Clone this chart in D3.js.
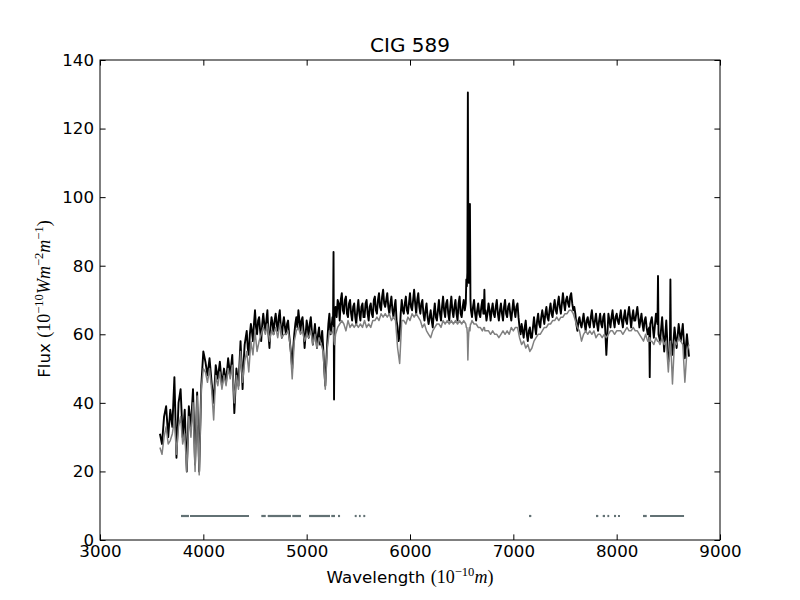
<!DOCTYPE html>
<html><head><meta charset="utf-8">
<script src="https://cdn.jsdelivr.net/npm/d3@7"></script>
<style>body{margin:0;background:#fff}</style>
</head><body><svg id="c" width="800" height="600"></svg>
<script>
// ---------------- data ----------------
const chartTitle = "CIG 589";
const xTicks = [3000, 4000, 5000, 6000, 7000, 8000, 9000];
const yTicks = [0, 20, 40, 60, 80, 100, 120, 140];

const wavelength = [
 3580,3600,3620,3640,3660, 3680,3700,3720,3740,3760, 3780,3800,3820,3840,3860, 3880,3900,3920,3940,3960,
 3980,4000,4020,4040,4060, 4080,4100,4120,4140,4160, 4180,4200,4220,4240,4260, 4280,4300,4320,4340,4360,
 4380,4400,4420,4440,4460, 4480,4500,4520,4540,4560, 4580,4600,4620,4640,4660, 4680,4700,4720,4740,4760,
 4780,4800,4820,4840,4860, 4880,4900,4920,4940,4960, 4980,5000,5020,5040,5060, 5080,5100,5120,5140,5160,
 5180,5200,5220,5240,5260, 5280,5300,5320,5340,5360, 5380,5400,5420,5440,5460, 5480,5500,5520,5540,5560,
 5580,5600,5620,5640,5660, 5680,5700,5720,5740,5760, 5780,5800,5820,5840,5860, 5880,5900,5920,5940,5960,
 5980,6000,6020,6040,6060, 6080,6100,6120,6140,6160, 6180,6200,6220,6240,6260, 6280,6300,6320,6340,6360,
 6380,6400,6420,6440,6460, 6480,6500,6520,6540,6560, 6580,6600,6620,6640,6660, 6680,6700,6720,6740,6760,
 6780,6800,6820,6840,6860, 6880,6900,6920,6940,6960, 6980,7000,7020,7040,7060, 7080,7100,7120,7140,7160,
 7180,7200,7220,7240,7260, 7280,7300,7320,7340,7360, 7380,7400,7420,7440,7460, 7480,7500,7520,7540,7560,
 7580,7600,7620,7640,7660, 7680,7700,7720,7740,7760, 7780,7800,7820,7840,7860, 7880,7900,7920,7940,7960,
 7980,8000,8020,8040,8060, 8080,8100,8120,8140,8160, 8180,8200,8220,8240,8260, 8280,8300,8320,8340,8360,
 8380,8400,8420,8440,8460, 8480,8500,8520,8540,8560, 8580,8600,8620,8640,8660, 8680,8700
];

const fluxObserved = [
 31,28,36,39,30, 38,33,47.5,24,40, 44,30,38,20,39, 33,44,22,43,20,
 45,55,52,48,53, 46,40,51,47,52, 45,50,46,53,48, 54,37,50,45,58,
 44,57,61,54,63, 58,67,60,65,58, 66,61,67,56,65, 60,66,61,67,59,
 65,60,64,57,50, 60,65,67,61,65, 56,64,59,65,57, 63,56,62,58,56,
 45,58,66,62,84, 68,70,64,72,66, 71,65,70,64,69, 63,70,64,69,65,
 70,64,69,65,71, 66,72,67,73,68, 72,66,71,65,70, 62,60,70,66,71,
 66,72,67,73,66, 72,66,70,64,69, 63,67,62,69,64, 70,64,71,65,70,
 64,71,65,70,64, 71,65,70,69,130.5, 98,65,70,64,69, 65,70,73,64,69,
 64,69,65,70,64, 69,64,70,65,69, 64,70,65,69,62, 63,59,64,58,62,
 59,65,60,66,62, 67,63,68,64,69, 65,70,66,71,66, 72,67,71,68,72,
 67,66,61,65,62, 66,61,65,62,67, 62,66,61,66,62, 66,54,66,62,67,
 62,66,63,67,62, 67,63,68,62,67, 64,68,62,66,61, 65,60,47.5,65,59,
 66,77,58,65,55, 64,52,76,54,62, 56,63,58,63,53, 60,53.5
];

const fluxModel = [
 27,25,30,33,28, 29,31,35,25,33, 36,28,31,20,36, 30,40,20,42,19,
 44,50,49,46,50, 44,35,48,45,49, 44,48,45,50,47, 51,40,48,44,55,
 46,52,55,49,58, 54,61,55,58,60, 62,60,63,58,61, 60,62,59,63,59,
 60,60,61,57,47, 58,61,62,60,61, 58,60,59,61,57, 60,56,59,57,55,
 44,56,61,60,62, 60,62,63,64,63, 61,64,62,63,62, 63,62,63,62,64,
 62,63,62,64,64, 65,64,66,65,66, 65,66,64,65,64, 56,51.5,64,64,63,
 65,64,66,65,66, 65,64,62,63,61, 60,59,61,62,63, 63,62,64,63,64,
 63,64,63,64,63, 64,63,64,63,52.5, 61,64,63,63,62, 62,61,62,61,61,
 60,61,60,60,59, 60,61,60,61,60, 62,61,62,62,59, 57,58,56,57,55,
 56,58,59,60,60, 61,62,62,63,63, 64,64,65,64,65, 65,66,66,67,67,
 66,64,62,61,58, 60,61,60,61,60, 61,59,60,60,59, 60,59,60,61,61,
 60,61,61,61,60, 61,62,61,61,62, 61,61,60,59,58, 60,58,59,58,57,
 59,58,57,59,57, 58,49,58,45.5,58, 57,59,58,57,46, 55,57
];

// extra samples (both series) around the narrow emission / sky-line features
const extraWave     = [5255, 5265, 5270, 6545, 6550, 6555, 6565, 6570, 6575, 6585, 6590, 6715, 6725, 8315, 8325, 8395, 8405, 8515, 8525];
const extraObserved = [  63,   41,   66,   76,   74,   78,   80,   75,   78,   70,   67,   67,   66,   62,   63,   63,   60,   55,   58];
const extraModel    = [  61,   58,   57,   62,   62,   60,   58,   61,   62,   63,   63,   62,   61,   58,   58,   58,   58,   56,   56];

// finer samples of the observed (noisy) spectrum between the main grid points
const midWave = [
 4390,4410,4430,4450,4470, 4490,4510,4530,4550,4570, 4590,4610,4630,4650,4670, 4690,4710,4730,4750,4770,
 4790,4810,4830,4850,4870, 4890,4910,4930,4950,4970, 4990,5010,5030,5050,5070, 5090,5110,5130,5150,5170,
 5190,5210,5230,5250,
 5290,5310,5330,5350,5370, 5390,5410,5430,5450,5470, 5490,5510,5530,5550,5570, 5590,5610,5630,5650,5670,
 5690,5710,5730,5750,5770, 5790,5810,5830,5850,5870, 5890,5910,5930,5950,5970, 5990,6010,6030,6050,6070,
 6090,6110,6130,6150,6170, 6190,6210,6230,6250,6270, 6290,6310,6330,6350,6370, 6390,6410,6430,6450,6470,
 6490,6510,6530,
 6610,6630,6650,6670,
 6690,6710,6730,6750,6770, 6790,6810,6830,6850,6870, 6890,6910,6930,6950,6970, 6990,7010,7030,7050,7070,
 7090,7110,7130,7150,7170, 7190,7210,7230,7250,7270, 7290,7310,7330,7350,7370, 7390,7410,7430,7450,7470,
 7490,7510,7530,7550,7570, 7590,7610,7630,7650,7670, 7690,7710,7730,7750,7770, 7790,7810,7830,7850,7870,
 7890,7910,7930,7950,7970, 7990,8010,8030,8050,8070, 8090,8110,8130,8150,8170, 8190,8210,8230,8250,8270,
 8290
];
const midObserved = [
 52,59,56,60,61, 63,62,64,61,63, 63,64,60,62,63, 64,63,65,62,63,
 62,63,60,54,56, 63,62,64,64,61, 60,62,63,61,60, 59,60,57,61,50,
 52,63,60,65,
 65,69,70,67,70, 66,69,66,68,65, 67,66,68,65,69, 66,68,66,70,67,
 70,68,71,69,70, 68,69,67,68,64, 58,66,67,69,67, 69,68,70,69,70,
 68,69,66,67,65, 65,64,66,65,67, 66,68,67,69,66, 68,67,68,66,69,
 66,68,67,
 68,66,67,66,
 68,66,67,66,67, 67,66,68,66,67, 66,68,66,68,66, 67,67,68,65,60,
 61,62,60,61,59, 62,62,64,63,65, 65,66,65,67,66, 68,67,69,68,69,
 69,70,69,71,69, 68,63,64,63,64, 63,64,63,65,64, 64,63,64,63,65,
 61,60,64,65,64, 65,64,65,64,65, 64,66,65,65,64, 66,65,64,63,64,
 62
];

// masked wavelength intervals (drawn at a constant flux level)
const maskStart = [3784, 3871, 4561, 4623, 4861, 5023, 5238, 5303, 5465, 5506, 5548, 7152, 7800, 7865, 7910, 7974, 8013, 8255, 8323];
const maskEnd   = [3861, 4442, 4604, 4848, 4945, 5226, 5274, 5323, 5484, 5523, 5567, 7174, 7822, 7887, 7928, 7994, 8032, 8291, 8652];
const maskLevel = 7;

// ---------------- chart ----------------
const svg = d3.select("#c");
const x = d3.scaleLinear().domain([3000, 9000]).range([100, 720]);
const y = d3.scaleLinear().domain([0, 140]).range([540, 60]);
const sans = "DejaVu Sans", serif = "Liberation Serif";

svg.append("rect").attr("width", 800).attr("height", 600).attr("fill", "#fff");
const plot = svg.append("g");

function buildSeries(groups) {
  const pts = [];
  groups.forEach(([ws, vs]) => ws.forEach((w, i) => pts.push([w, vs[i]])));
  return pts.sort((a, b) => a[0] - b[0]);
}
function drawSeries(points, color, width) {
  const gen = d3.line().x(d => x(d[0])).y(d => y(d[1]));
  plot.append("path")
    .datum(points)
    .attr("d", gen)
    .attr("fill", "none")
    .attr("stroke", color)
    .attr("stroke-width", width)
    .attr("stroke-linejoin", "round");
}
drawSeries(buildSeries([[wavelength, fluxObserved], [extraWave, extraObserved], [midWave, midObserved]]), "#000000", 1.9);
drawSeries(buildSeries([[wavelength, fluxModel], [extraWave, extraModel]]), "#808080", 1.5);

plot.selectAll("line.mask")
  .data(maskStart.map((s, i) => [s, maskEnd[i]]))
  .enter().append("line")
  .attr("class", "mask")
  .attr("x1", d => x(d[0])).attr("x2", d => x(d[1]))
  .attr("y1", y(maskLevel)).attr("y2", y(maskLevel))
  .attr("stroke", "#627174").attr("stroke-width", 2.2);

// axes (ticks inward on all four sides)
const tk = 5.6;
function styleAxis(g) {
  g.select(".domain").remove();
  g.selectAll(".tick line").attr("stroke", "#000").attr("stroke-width", 1);
  g.selectAll("text").attr("font-family", sans).attr("font-size", "16.67px").attr("fill", "#000");
}
svg.append("g").attr("transform", "translate(0,540)")
  .call(d3.axisBottom(x).tickValues(xTicks).tickFormat(d3.format("d")).tickSizeInner(-tk).tickSizeOuter(0).tickPadding(5))
  .call(styleAxis);
svg.append("g").attr("transform", "translate(0,60)")
  .call(d3.axisTop(x).tickValues(xTicks).tickFormat("").tickSizeInner(-tk).tickSizeOuter(0))
  .call(styleAxis);
svg.append("g").attr("transform", "translate(100,0)")
  .call(d3.axisLeft(y).tickValues(yTicks).tickFormat(d3.format("d")).tickSizeInner(-tk).tickSizeOuter(0).tickPadding(6))
  .call(styleAxis);
svg.append("g").attr("transform", "translate(720,0)")
  .call(d3.axisRight(y).tickValues(yTicks).tickFormat("").tickSizeInner(-tk).tickSizeOuter(0))
  .call(styleAxis);

svg.append("rect").attr("x", 100).attr("y", 60).attr("width", 620).attr("height", 480)
  .attr("fill", "none").attr("stroke", "#000").attr("stroke-width", 1);

// labels with math-like parts
function richText(t, parts) {
  parts.forEach(p => {
    const s = t.append("tspan").text(p.t)
      .attr("font-family", p.f || serif)
      .attr("font-size", p.sz || "18px");
    if (p.it) s.attr("font-style", "italic");
    if (p.dy) s.attr("dy", p.dy);
  });
}
const supSz = "12.6px";
const xl = svg.append("text").attr("x", 410).attr("y", 583).attr("text-anchor", "middle").attr("fill", "#000");
richText(xl, [
  {t: "Wavelength ", f: sans, sz: "16.67px"},
  {t: "(10"},
  {t: "\u221210", sz: supSz, dy: -7},
  {t: "m", it: true, dy: 7},
  {t: ")"}
]);

const yl = svg.append("text").attr("transform", "translate(49.5,299) rotate(-90)").attr("text-anchor", "middle").attr("fill", "#000");
richText(yl, [
  {t: "Flux ", f: sans, sz: "16.67px"},
  {t: "(10"},
  {t: "\u221210", sz: supSz, dy: -7},
  {t: "Wm", it: true, dy: 7},
  {t: "\u22122", sz: supSz, dy: -7},
  {t: "m", it: true, dy: 7},
  {t: "\u22121", sz: supSz, dy: -7},
  {t: ")", dy: 7}
]);

svg.append("text").attr("x", 410).attr("y", 52).attr("text-anchor", "middle")
  .attr("font-family", sans).attr("font-size", "20px").attr("fill", "#000").text(chartTitle);
</script></body></html>
